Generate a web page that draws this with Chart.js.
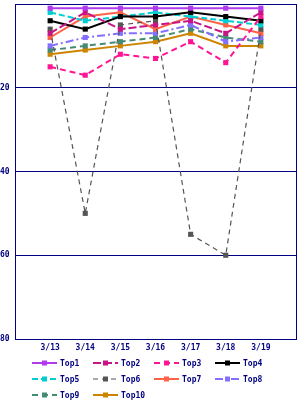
<!DOCTYPE html>
<html>
<head>
<meta charset="utf-8">
<script src="https://cdn.jsdelivr.net/npm/chart.js"></script>
<style>
  html, body { margin: 0; padding: 0; background: #fff; }
  #wrap { width: 300px; height: 400px; }
</style>
</head>
<body>
<div id="wrap"><canvas id="rank"></canvas></div>
<script>
// ---- data ----
const days = ['3/13', '3/14', '3/15', '3/16', '3/17', '3/18', '3/19'];
const yTicks = [20, 40, 60, 80];

const top1  = [1, 1, 1, 1, 1, 1, 1];
const top2  = [7, 2, 6, 5, 4, 7, 2];
const top3  = [15, 17, 12, 13, 9, 14, 3];
const top4  = [4, 6, 3, 3, 2, 3, 4];
const top5  = [2, 4, 3, 2, 3, 4, 5];
const top6  = [6, 50, 5, 4, 55, 60, 6];
const top7  = [8, 3, 2, 6, 3, 5, 7];
const top8  = [10, 8, 7, 7, 5, 9, 8];
const top9  = [11, 10, 9, 8, 6, 8, 9];
const top10 = [12, 11, 10, 9, 7, 10, 10];

const names = ['Top1', 'Top2', 'Top3', 'Top4', 'Top5', 'Top6', 'Top7', 'Top8', 'Top9', 'Top10'];
const series = [top1, top2, top3, top4, top5, top6, top7, top8, top9, top10];

// ---- styles ----
const NAVY = '#000080';
const FONT = { family: '"DejaVu Sans Mono", monospace', size: 8, weight: 'bold' };
const colors = ['#b23aee', '#c71585', '#ff1493', '#000000', '#00ced1',
                '#555555', '#ff6347', '#8470ff', '#458b74', '#cd8500'];
const dashes = [[], [8, 3], [6, 4], [], [6, 3], [5, 4], [], [8, 3, 2, 3], [6, 4], []];
const widths = [2, 2, 2, 2, 2, 1.2, 2, 2, 2, 2];

// blank slot at each end so the days sit one step in from the frame
const labels = [''].concat(days, ['']);

const datasets = series.map((vals, i) => ({
  label: names[i],
  data: [null].concat(vals, [null]),
  borderColor: colors[i],
  backgroundColor: colors[i],
  borderWidth: widths[i],
  borderDash: dashes[i],
  pointStyle: 'rect',
  pointRadius: 3.6,
  pointBorderWidth: 0,
  pointBackgroundColor: colors[i],
  tension: 0,
  spanGaps: false
}));

// frame round the plot + hand-drawn legend underneath
const framePlugin = {
  id: 'frame',
  afterDraw(chart) {
    const { ctx, chartArea: a } = chart;
    ctx.save();
    ctx.strokeStyle = NAVY;
    ctx.lineWidth = 1;
    ctx.strokeRect(Math.round(a.left) + 0.5, Math.round(a.top) + 0.5,
                   Math.round(a.right - a.left), Math.round(a.bottom - a.top));

    ctx.font = 'bold 8px "DejaVu Sans Mono", monospace';
    ctx.textBaseline = 'middle';
    chart.data.datasets.forEach((ds, i) => {
      const col = i % 4, row = Math.floor(i / 4);
      const x = 32 + col * 61;
      const y = 363 + row * 16;
      ctx.strokeStyle = ds.borderColor;
      ctx.lineWidth = ds.borderWidth;
      ctx.setLineDash(ds.borderDash);
      ctx.beginPath();
      ctx.moveTo(x, y);
      ctx.lineTo(x + 25, y);
      ctx.stroke();
      ctx.setLineDash([]);
      ctx.fillStyle = ds.borderColor;
      ctx.fillRect(x + 10, y - 2.5, 5, 5);
      ctx.fillStyle = NAVY;
      ctx.fillText(ds.label, x + 28, y + 0.5);
    });
    ctx.restore();
  }
};

new Chart(document.getElementById('rank'), {
  type: 'line',
  data: { labels, datasets },
  options: {
    responsive: true,
    maintainAspectRatio: false,
    animation: false,
    layout: { padding: { top: 4, right: 2, bottom: 47, left: 0 } },
    plugins: {
      legend: { display: false },
      tooltip: { enabled: false }
    },
    scales: {
      x: {
        offset: false,
        grid: { display: false, drawTicks: false },
        border: { color: NAVY },
        ticks: { color: NAVY, font: FONT, padding: 4, maxRotation: 0, autoSkip: false },
        afterFit(s) { s.height = 14; s.paddingLeft = 0; s.paddingRight = 0; }
      },
      y: {
        reverse: true,
        min: 0,
        max: 80,
        afterBuildTicks(s) { s.ticks = [0].concat(yTicks).map(v => ({ value: v })); },
        grid: { color: NAVY, drawTicks: false, lineWidth: 1 },
        border: { color: NAVY },
        ticks: {
          color: NAVY, font: FONT, padding: 3, crossAlign: 'far',
          callback: v => (v === 0 ? '' : String(v))
        },
        afterFit(s) { s.width = 15; s.paddingTop = 0; s.paddingBottom = 0; }
      }
    }
  },
  plugins: [framePlugin]
});
</script>
</body>
</html>
